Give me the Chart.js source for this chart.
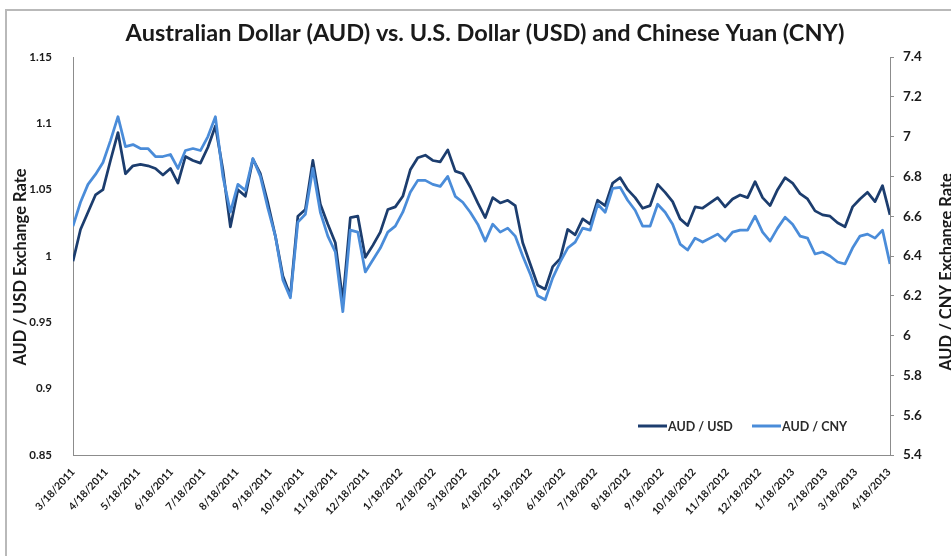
<!DOCTYPE html>
<html><head><meta charset="utf-8">
<script src="https://cdn.jsdelivr.net/npm/chart.js@4.4.1/dist/chart.umd.min.js"></script>
<style>
html,body{margin:0;padding:0;background:#fff;}
#wrap{position:relative;width:951px;height:556px;overflow:hidden;background:#fff;}
#frameL{position:absolute;left:5px;top:9px;width:2px;height:547px;background:#b9b9b9;}
#frameT{position:absolute;left:5px;top:9px;width:946px;height:2px;background:#b9b9b9;}
canvas{position:absolute;left:0;top:0;}
</style></head><body>
<div id="wrap"><canvas id="c" width="951" height="556"></canvas><div id="frameL"></div><div id="frameT"></div></div>
<script>
const chartTitle = 'Australian Dollar (AUD) vs. U.S. Dollar (USD) and Chinese Yuan (CNY)';
const leftAxisTitle = 'AUD / USD Exchange Rate';
const rightAxisTitle = 'AUD / CNY Exchange Rate';
const seriesNames = ['AUD / USD', 'AUD / CNY'];
const startDate = '3/18/2011';
const stepDays = 7; // weekly readings
const tickLabels = ['3/18/2011','4/18/2011','5/18/2011','6/18/2011','7/18/2011','8/18/2011','9/18/2011','10/18/2011','11/18/2011','12/18/2011',
  '1/18/2012','2/18/2012','3/18/2012','4/18/2012','5/18/2012','6/18/2012','7/18/2012','8/18/2012','9/18/2012','10/18/2012','11/18/2012','12/18/2012',
  '1/18/2013','2/18/2013','3/18/2013','4/18/2013'];
const leftTicks = [0.85, 0.9, 0.95, 1, 1.05, 1.1, 1.15];
const rightTicks = [5.4, 5.6, 5.8, 6, 6.2, 6.4, 6.6, 6.8, 7, 7.2, 7.4];
const audUsd = [0.996,1.020,1.033,1.046,1.050,1.072,1.093,1.062,1.068,1.069,
  1.068,1.066,1.061,1.066,1.055,1.075,1.072,1.070,1.082,1.098,
  1.065,1.022,1.050,1.045,1.073,1.062,1.040,1.015,0.985,0.970,
  1.030,1.035,1.072,1.039,1.024,1.010,0.966,1.029,1.030,0.999,
  1.008,1.018,1.035,1.037,1.045,1.065,1.074,1.076,1.072,1.071,
  1.080,1.064,1.062,1.052,1.040,1.029,1.044,1.040,1.042,1.038,
  1.010,0.994,0.978,0.975,0.992,0.998,1.020,1.016,1.028,1.024,
  1.042,1.038,1.055,1.059,1.050,1.044,1.036,1.038,1.054,1.048,
  1.041,1.028,1.023,1.037,1.036,1.040,1.044,1.037,1.043,1.046,
  1.044,1.056,1.044,1.038,1.050,1.059,1.055,1.047,1.043,1.034,
  1.031,1.030,1.025,1.022,1.037,1.043,1.048,1.041,1.053,1.031];
const audCny = [6.55,6.67,6.76,6.81,6.87,6.98,7.10,6.95,6.96,6.94,
  6.94,6.90,6.90,6.91,6.84,6.93,6.94,6.93,7.00,7.10,
  6.80,6.62,6.76,6.73,6.89,6.80,6.64,6.50,6.28,6.19,
  6.57,6.61,6.84,6.62,6.50,6.42,6.12,6.53,6.52,6.32,
  6.38,6.44,6.52,6.55,6.62,6.72,6.78,6.78,6.76,6.75,
  6.80,6.70,6.67,6.62,6.56,6.475,6.56,6.52,6.54,6.50,
  6.40,6.31,6.20,6.18,6.29,6.37,6.44,6.47,6.54,6.53,
  6.66,6.62,6.74,6.745,6.68,6.63,6.55,6.55,6.66,6.62,
  6.56,6.46,6.43,6.49,6.47,6.49,6.51,6.475,6.52,6.53,
  6.53,6.60,6.52,6.475,6.54,6.595,6.56,6.50,6.49,6.41,
  6.42,6.40,6.37,6.36,6.44,6.50,6.51,6.49,6.53,6.36];

function dayNum(s){const p=s.split('/').map(Number);return Date.UTC(p[2],p[0]-1,p[1])/86400000;}
const t0 = dayNum(startDate);
const tickDays = tickLabels.map(s => dayNum(s) - t0);
const lastDay = (audUsd.length - 1) * stepDays;
const fmt = v => String(+v.toFixed(2));

const DARK = '#1c3d6e', LIGHT = '#4a8cd9', AXIS = '#8c8c8c', TXT = '#1a1a1a';
const FONT = 'Lato';

const textPlugin = {
  id: 'texts',
  afterDraw(chart) {
    const ctx = chart.ctx;
    ctx.save();
    ctx.fillStyle = TXT;
    ctx.textAlign = 'center';
    ctx.textBaseline = 'middle';
    ctx.font = 'bold 23.5px ' + FONT;
    ctx.fillText(chartTitle, 485, 33);
    ctx.font = 'bold 16.5px ' + FONT;
    ctx.save(); ctx.translate(21, 267); ctx.rotate(-Math.PI/2); ctx.fillText(leftAxisTitle, 0, 0); ctx.restore();
    ctx.save(); ctx.translate(947, 272); ctx.rotate(-Math.PI/2); ctx.fillText(rightAxisTitle, 0, 0); ctx.restore();
    // legend
    const ds = chart.data.datasets;
    ctx.font = 'bold 12.5px ' + FONT;
    ctx.textAlign = 'left';
    const items = [[638, 0], [752, 1]];
    items.forEach(([x, i]) => {
      ctx.strokeStyle = ds[i].borderColor; ctx.lineWidth = 3;
      ctx.beginPath(); ctx.moveTo(x, 426); ctx.lineTo(x + 29, 426); ctx.stroke();
      ctx.fillStyle = '#2b2b2b';
      ctx.fillText(seriesNames[i], x + 30, 427);
    });
    ctx.restore();
  }
};

new Chart(document.getElementById('c'), {
  type: 'line',
  data: {
    datasets: [
      { label: seriesNames[0], data: audUsd.map((v,i)=>({x:i*stepDays, y:v})), yAxisID: 'y', borderColor: DARK, backgroundColor: DARK, borderWidth: 2.75, pointRadius: 0, tension: 0, order: 1, borderJoinStyle: 'round' },
      { label: seriesNames[1], data: audCny.map((v,i)=>({x:i*stepDays, y:v})), yAxisID: 'y1', borderColor: LIGHT, backgroundColor: LIGHT, borderWidth: 2.75, pointRadius: 0, tension: 0, order: 0, borderJoinStyle: 'round' }
    ]
  },
  options: {
    responsive: false, animation: false,
    layout: { padding: { top: 57, left: 0, right: 0, bottom: 0 } },
    plugins: { legend: { display: false }, title: { display: false }, tooltip: { enabled: false } },
    scales: {
      x: {
        type: 'linear', min: 0, max: lastDay, bounds: 'data',
        afterBuildTicks: s => { s.ticks = tickDays.map(v => ({ value: v })); },
        afterFit: s => { s.height = 101; },
        grid: { display: false },
        border: { display: true, color: AXIS, width: 1 },
        ticks: { autoSkip: false, maxRotation: 47, minRotation: 47, padding: 3, color: TXT,
          font: { family: FONT, weight: 'bold', size: 10.5 },
          callback: (v, i) => tickLabels[i] }
      },
      y: {
        position: 'left', min: 0.85, max: 1.15, bounds: 'data',
        afterBuildTicks: s => { s.ticks = leftTicks.map(v => ({ value: v })); },
        afterFit: s => { s.width = 73; },
        grid: { display: false },
        border: { display: true, color: AXIS, width: 1 },
        ticks: { padding: 13, color: TXT, font: { family: FONT, weight: 'bold', size: 11.5 }, callback: v => fmt(v) }
      },
      y1: {
        position: 'right', min: 5.4, max: 7.4, bounds: 'data',
        afterBuildTicks: s => { s.ticks = rightTicks.map(v => ({ value: v })); },
        afterFit: s => { s.width = 61; },
        grid: { drawOnChartArea: false, drawTicks: true, tickLength: 4, color: AXIS },
        border: { display: true, color: AXIS, width: 1 },
        ticks: { padding: 9, color: TXT, font: { family: FONT, weight: 'bold', size: 13.5 }, callback: v => fmt(v) }
      }
    }
  },
  plugins: [textPlugin]
});
</script>
</body></html>
